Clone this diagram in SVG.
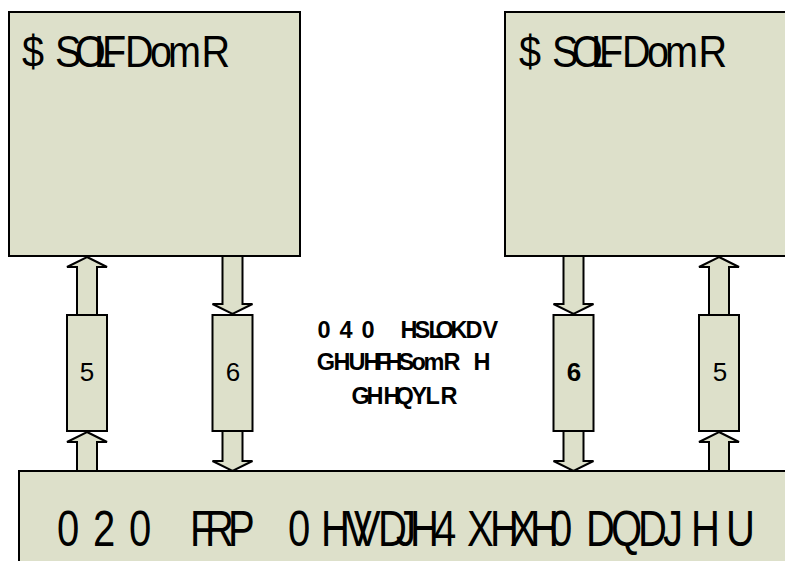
<svg xmlns="http://www.w3.org/2000/svg" width="785" height="561" viewBox="0 0 785 561">
<style>
.box{fill:#dde0ca;stroke:#000;stroke-width:2}
.arr{fill:#dde0ca;stroke:#000;stroke-width:2;stroke-linejoin:miter}
.t{font-family:"Liberation Sans",Arial,sans-serif;fill:#000}
.title{font-size:44px}
.big{font-size:50px}
.mid{font-size:23.5px;font-weight:bold}
.num{font-size:26px;text-anchor:middle}
</style>
<rect width="785" height="561" fill="#fff"/>
<g id="connectors">
<polygon class="arr" points="87,257 107,267 97,267 97,315 77,315 77,267 67,267"/>
<polygon class="arr" points="87,432 107,442 97,442 97,471 77,471 77,442 67,442"/>
<polygon class="arr" points="222.5,256 242.5,256 242.5,304 252.5,304 232.5,314 212.5,304 222.5,304"/>
<polygon class="arr" points="222.5,431 242.5,431 242.5,461 252.5,461 232.5,471 212.5,461 222.5,461"/>
<polygon class="arr" points="563.5,256 583.5,256 583.5,304 593.5,304 573.5,314 553.5,304 563.5,304"/>
<polygon class="arr" points="563.5,431 583.5,431 583.5,461 593.5,461 573.5,471 553.5,461 563.5,461"/>
<polygon class="arr" points="719,257 739,267 729,267 729,315 709,315 709,267 699,267"/>
<polygon class="arr" points="719,432 739,442 729,442 729,471 709,471 709,442 699,442"/>
</g>
<g id="app-left">
<rect class="box" x="9" y="12" width="291" height="244"/>
<text class="t title" transform="translate(0,67) scale(0.9,1)" x="24.4 61.1 83.3 104.4 113.3 138.9 166.7 186.7 223.9" y="0">$SOLFDomR</text>
</g>
<g id="app-right">
<rect class="box" x="505" y="12" width="290" height="244"/>
<text class="t title" transform="translate(497,67) scale(0.9,1)" x="24.4 61.1 83.3 104.4 113.3 138.9 166.7 186.7 223.9" y="0">$SOLFDomR</text>
</g>
<g id="mom">
<rect class="box" x="19" y="471" width="780" height="100"/>
<text class="t big" transform="translate(0,546) scale(0.8,1)" y="0"><tspan x="71.25 116.25 161.25">020</tspan> <tspan x="237.5 256.25 285">FRP</tspan> <tspan x="360 401.25 431.25 442.5 472.5 495 512.5 542.5 583.75 612.5 637.5 662.5 687.5 732.5 763.75 797.5 828.75 863.75 907.5">0HVVDJH4XHXH0DQDJHU</tspan></text>
</g>
<g id="r-left">
<rect class="box" x="67" y="315" width="40" height="116"/>
<text class="t num" x="87" y="381">5</text>
</g>
<g id="s-left">
<rect class="box" x="212.5" y="315" width="40" height="116"/>
<text class="t num" x="233" y="381">6</text>
</g>
<g id="s-right">
<rect class="box" x="553.5" y="315" width="40" height="116"/>
<text class="t num" x="574" y="381" font-weight="bold">6</text>
</g>
<g id="r-right">
<rect class="box" x="699" y="315" width="40" height="116"/>
<text class="t num" x="720" y="381">5</text>
</g>
<g id="label">
<text class="t mid" y="338"><tspan x="317.5 339.5 361.5">040</tspan> <tspan x="400.5 414.5 428.5 435.5 450.5 465.5 482.5">HSLOKDV</tspan></text>
<text class="t mid" y="370" x="316.8 333.5 348.5 363.5 375.5 385.5 398.5 411.5 423.5 443.5 473.5">GHUHFHSomRH</text>
<text class="t mid" y="404" x="351.5 366.5 383.5 395.5 411.5 425.5 440.5">GHHQYLR</text>
</g>
</svg>
